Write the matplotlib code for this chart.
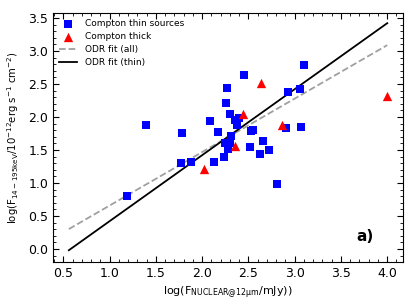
import numpy as np
import matplotlib
matplotlib.use("Agg")
import matplotlib.pyplot as plt
from matplotlib.ticker import MultipleLocator

plt.rcParams['mathtext.default'] = 'regular'

# Compton thin sources (log F12um, log F14-195keV)
thin_x = [1.19, 1.39, 1.77, 1.78, 1.875, 2.09, 2.13, 2.17, 2.235, 2.25, 2.26, 2.27,
          2.28, 2.30, 2.30, 2.31, 2.35, 2.375, 2.40, 2.45, 2.52, 2.53, 2.555, 2.63,
          2.66, 2.72, 2.81, 2.91, 2.93, 3.06, 3.07, 3.10]
thin_y = [0.80, 1.87, 1.30, 1.76, 1.31, 1.94, 1.31, 1.77, 1.39, 1.60, 2.21, 2.44,
          1.52, 1.60, 2.05, 1.71, 1.95, 1.88, 1.99, 2.63, 1.545, 1.78, 1.80, 1.44,
          1.63, 1.495, 0.99, 1.83, 2.38, 2.42, 1.85, 2.79]

# Compton thick sources
thick_x = [2.015, 2.35, 2.44, 2.64, 2.86, 4.00]
thick_y = [1.21, 1.56, 2.05, 2.51, 1.88, 2.31]

# ODR fits: slope, intercept
fit_all = (0.81, -0.153)
fit_thin = (1.0, -0.58)
fit_range = [0.56, 4.0]

fig = plt.figure(figsize=(4.15, 3.08), dpi=100)
ax = fig.add_axes([0.128, 0.149, 0.843, 0.81])

ax.scatter(thin_x, thin_y, marker='s', s=40, color='#0000ff', linewidths=0,
           label='Compton thin sources', zorder=3)
ax.scatter(thick_x, thick_y, marker='^', s=45, color='red', linewidths=0,
           label='Compton thick', zorder=3)

xx = np.array(fit_range)
ax.plot(xx, fit_all[0] * xx + fit_all[1], '--', color='#a0a0a0', lw=1.3,
        label='ODR fit (all)', zorder=2)
ax.plot(xx, fit_thin[0] * xx + fit_thin[1], '-', color='black', lw=1.3,
        label='ODR fit (thin)', zorder=2)

ax.set_xlim(0.39, 4.17)
ax.set_ylim(-0.2, 3.58)
ax.xaxis.set_major_locator(MultipleLocator(0.5))
ax.yaxis.set_major_locator(MultipleLocator(0.5))
ax.xaxis.set_minor_locator(MultipleLocator(0.1))
ax.yaxis.set_minor_locator(MultipleLocator(0.1))
ax.tick_params(which='both', direction='in', top=True, right=True, labelsize=9)
ax.tick_params(which='major', length=4)
ax.tick_params(which='minor', length=2)

ax.set_xlabel(r'log(F$_{NUCLEAR@12\mu m}$/mJy))', fontsize=8, labelpad=3)
ax.set_ylabel(r'log(F$_{14-195keV}$/10$^{-12}$erg s$^{-1}$ cm$^{-2}$)', fontsize=7.3, labelpad=5)

ax.text(3.67, 0.12, 'a)', fontsize=11, fontweight='bold')

ax.legend(loc='upper left', fontsize=6.5, frameon=False, handlelength=2,
          borderaxespad=0.3, labelspacing=0.45, handletextpad=0.8,
          bbox_to_anchor=(0.0, 1.0))

fig.savefig('out.png', dpi=100)
